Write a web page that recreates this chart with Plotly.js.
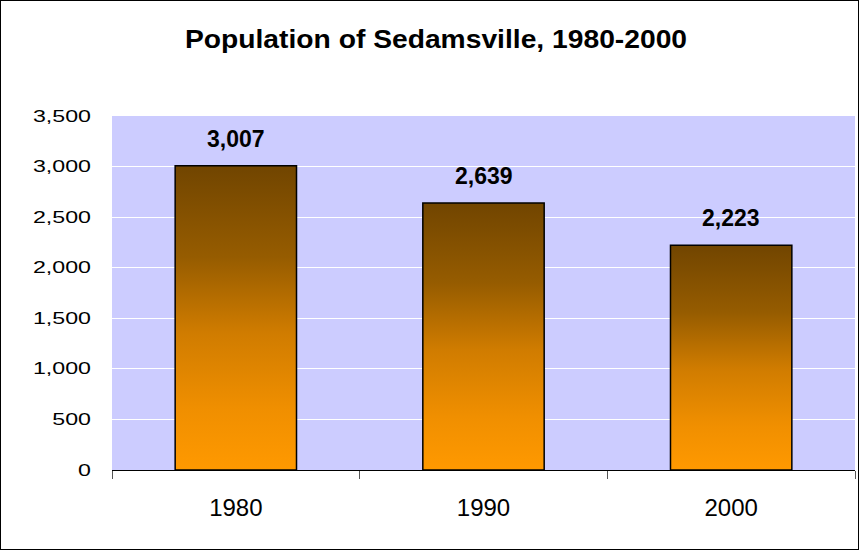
<!DOCTYPE html>
<html>
<head>
<meta charset="utf-8">
<script src="https://cdn.plot.ly/plotly-3.0.1.min.js"></script>
<style>
html, body { margin: 0; padding: 0; background: #fff; }
#chart { width: 857px; height: 548px; border: 1px solid #000; }
#chart .gtitle {
  transform-box: fill-box;
  transform-origin: 50% 50%;
  transform: scaleX(1.13);
}
</style>
</head>
<body>
<div id="chart"></div>
<script>
var years = ['1980', '1990', '2000'];
var population = [3007, 2639, 2223];
var yTicks = [0, 500, 1000, 1500, 2000, 2500, 3000, 3500];
var titleText = 'Population of Sedamsville, 1980-2000';

var font = 'Liberation Sans, Arial, sans-serif';

var trace = {
  type: 'bar',
  x: years,
  y: population,
  width: 0.49,
  marker: { color: '#ff9900', line: { color: '#000', width: 1.5 } },
  hoverinfo: 'skip'
};

var annotations = years.map(function (yr, i) {
  return {
    x: i, y: population[i], xref: 'x', yref: 'y',
    text: '<b>' + population[i].toLocaleString('en-US') + '</b>',
    showarrow: false, yanchor: 'bottom', yshift: 12,
    font: { family: font, size: 23, color: '#000' }
  };
});

var layout = {
  width: 857, height: 548,
  margin: { l: 111, r: 3, t: 115, b: 79, pad: 0 },
  paper_bgcolor: '#ffffff',
  plot_bgcolor: '#ccccff',
  showlegend: false,
  title: {
    text: '<b>' + titleText + '</b>',
    font: { family: font, size: 25, color: '#000' },
    x: 435 / 857, xref: 'container', xanchor: 'center',
    y: 1 - 38 / 548, yref: 'container', yanchor: 'middle'
  },
  xaxis: {
    type: 'category',
    tickson: 'boundaries',
    ticks: 'outside', ticklen: 8, tickcolor: '#555', tickwidth: 1,
    showline: true, linecolor: '#000', linewidth: 1,
    showgrid: false,
    tickfont: { family: font, size: 24, color: '#000' },
    ticklabelstandoff: 16
  },
  yaxis: {
    range: [0, 3500],
    tickvals: yTicks,
    tickformat: ',d',
    showgrid: true, gridcolor: '#ffffff', gridwidth: 1,
    zeroline: false, showline: false,
    ticks: '',
    tickfont: { family: font, size: 16, color: '#000' },
    ticklabelstandoff: 20
  },
  annotations: annotations
};

Plotly.newPlot('chart', [trace], layout, { staticPlot: true, responsive: false }).then(function (gd) {
  var svg = gd.querySelector('svg.main-svg');
  var ns = 'http://www.w3.org/2000/svg';
  var defs = svg.querySelector('defs') || svg.insertBefore(document.createElementNS(ns, 'defs'), svg.firstChild);
  var grad = document.createElementNS(ns, 'linearGradient');
  grad.setAttribute('id', 'barGrad');
  grad.setAttribute('x1', '0'); grad.setAttribute('y1', '0');
  grad.setAttribute('x2', '0'); grad.setAttribute('y2', '1');
  [['0', '#714500'], ['0.3', '#965c00'], ['0.55', '#d07c00'], ['0.8', '#f08f00'], ['1', '#ff9900']].forEach(function (s) {
    var st = document.createElementNS(ns, 'stop');
    st.setAttribute('offset', s[0]);
    st.setAttribute('stop-color', s[1]);
    grad.appendChild(st);
  });
  defs.appendChild(grad);
  gd.querySelectorAll('.bars .point path').forEach(function (p) {
    p.style.fill = 'url(#barGrad)';
  });
  // widen the y tick labels as in the reference, keeping their right edge fixed
  gd.querySelectorAll('.ytick text').forEach(function (t) {
    var x = parseFloat(t.getAttribute('x')) || 0;
    var tr = t.getAttribute('transform') || '';
    t.setAttribute('transform', tr + ' translate(' + x + ',0) scale(1.45,1) translate(' + (-x) + ',0)');
  });
});
</script>
</body>
</html>
